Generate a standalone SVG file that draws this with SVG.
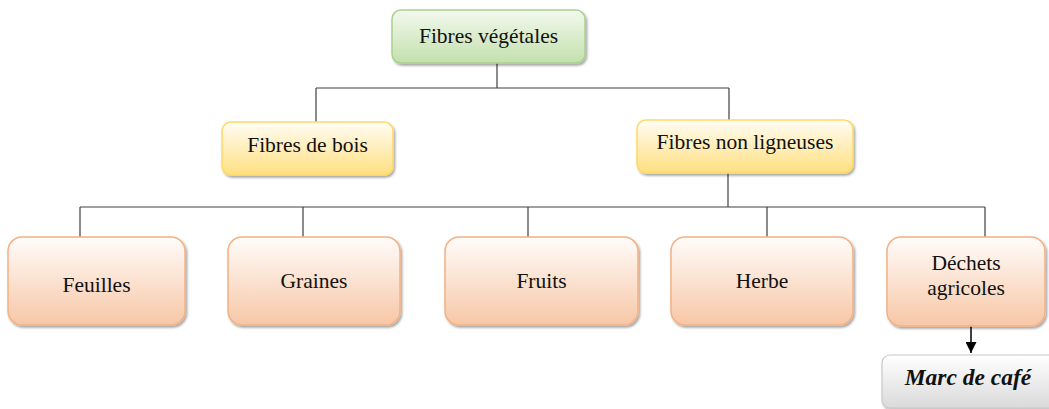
<svg xmlns="http://www.w3.org/2000/svg" width="1049" height="409" viewBox="0 0 1049 409">
<defs>
<linearGradient id="gGreen" x1="0" y1="0" x2="0" y2="1"><stop offset="0" stop-color="#f3f9ee"/><stop offset="1" stop-color="#c3e0ad"/></linearGradient>
<linearGradient id="gYellow" x1="0" y1="0" x2="0" y2="1"><stop offset="0" stop-color="#fffdf5"/><stop offset="1" stop-color="#ffdf7f"/></linearGradient>
<linearGradient id="gOrange" x1="0" y1="0" x2="0" y2="1"><stop offset="0" stop-color="#fffcfa"/><stop offset="1" stop-color="#f7c7a6"/></linearGradient>
<linearGradient id="gGrey" x1="0" y1="0" x2="0" y2="1"><stop offset="0" stop-color="#ffffff"/><stop offset="1" stop-color="#dadada"/></linearGradient>
<filter id="sh" x="-10%" y="-10%" width="125%" height="130%"><feDropShadow dx="1.5" dy="2" stdDeviation="1.2" flood-color="#000" flood-opacity="0.35"/></filter>
<marker id="arr" viewBox="0 0 10 10" refX="10" refY="5" markerWidth="12" markerHeight="11" markerUnits="userSpaceOnUse" orient="auto"><path d="M0,0 L10,5 L0,10 z" fill="#000"/></marker>
</defs>
<style>
text{font-family:'Liberation Serif','Times New Roman',serif;font-size:21.5px;fill:#111;text-anchor:middle}
.g{fill:url(#gGreen);stroke:#a9d18e;stroke-width:1.5;filter:url(#sh)}
.y{fill:url(#gYellow);stroke:#ffd966;stroke-width:1.5;filter:url(#sh)}
.o{fill:url(#gOrange);stroke:#f4b183;stroke-width:1.5;filter:url(#sh)}
.gr{fill:url(#gGrey);stroke:#c8c8c8;stroke-width:1.2;filter:url(#sh)}
.c{fill:none;stroke:#404040;stroke-width:1.2}
</style>
<rect width="1049" height="409" fill="#fff"/>
<g id="connectors">
<path class="c" d="M497,63 V88 M316,88 H729 M316,88 V122 M729,88 V120"/>
<path class="c" d="M728,173 V207 M80,207 H985 M80,207 V237 M303,207 V237 M528,207 V237 M767,207 V237 M985,207 V237"/>
<path d="M971,326 V353" fill="none" stroke="#000" stroke-width="1.5" marker-end="url(#arr)"/>
</g>
<g id="n-fibres-vegetales"><rect class="g" x="392" y="10" width="193" height="53" rx="9"/><text x="488.5" y="43">Fibres végétales</text></g>
<g id="n-fibres-bois"><rect class="y" x="222" y="122" width="171" height="53" rx="9"/><text x="307.5" y="152">Fibres de bois</text></g>
<g id="n-fibres-non-ligneuses"><rect class="y" x="637" y="120" width="216" height="53" rx="9"/><text x="745" y="149">Fibres non ligneuses</text></g>
<g id="n-feuilles"><rect class="o" x="8" y="237" width="177" height="88" rx="14"/><text x="96.5" y="292">Feuilles</text></g>
<g id="n-graines"><rect class="o" x="228" y="237" width="172" height="88" rx="14"/><text x="314" y="288">Graines</text></g>
<g id="n-fruits"><rect class="o" x="445" y="237" width="193" height="88" rx="14"/><text x="541.5" y="288">Fruits</text></g>
<g id="n-herbe"><rect class="o" x="671" y="237" width="182" height="88" rx="14"/><text x="762" y="288">Herbe</text></g>
<g id="n-dechets"><rect class="o" x="887" y="237" width="158" height="89" rx="14"/><text x="966" y="270">Déchets</text><text x="966" y="295">agricoles</text></g>
<g id="n-marc"><rect class="gr" x="882" y="355" width="180" height="53" rx="8"/><text x="968" y="385" style="font-size:23.5px;font-weight:bold;font-style:italic">Marc de café</text></g>
</svg>
